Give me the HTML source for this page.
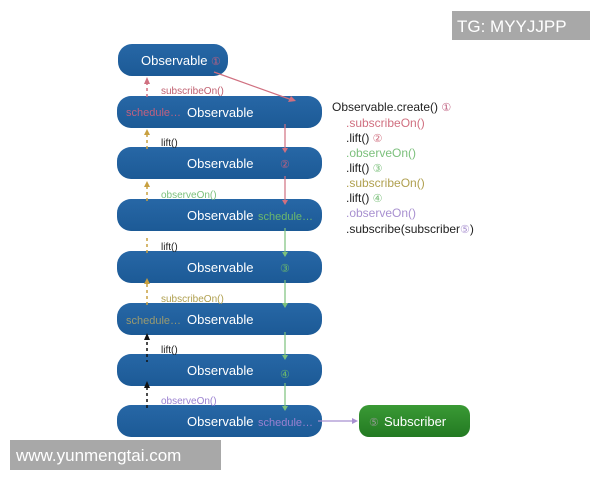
<!DOCTYPE html>
<html><head><meta charset="utf-8"><style>
html,body{margin:0;padding:0;background:#fff;}
svg{display:block;font-family:"Liberation Sans",sans-serif;}
</style></head><body>
<svg width="600" height="480" viewBox="0 0 600 480">
<defs>
<linearGradient id="b" x1="0" y1="0" x2="0" y2="1"><stop offset="0" stop-color="#2767a6"/><stop offset="1" stop-color="#1c5a96"/></linearGradient>
<linearGradient id="g" x1="0" y1="0" x2="0" y2="1"><stop offset="0" stop-color="#3a9a35"/><stop offset="1" stop-color="#237a22"/></linearGradient>
</defs>
<rect x="452" y="11" width="138" height="29" fill="#a8a8a8"/>
<text x="457" y="32" font-size="17" fill="#fff">TG: MYYJJPP</text>
<rect x="10" y="440" width="211" height="30" fill="#a8a8a8"/>
<text x="16" y="461" font-size="17" fill="#fff">www.yunmengtai.com</text>

<rect x="118" y="44" width="110" height="32" rx="14" fill="url(#b)"/>
<text x="141" y="65" font-size="13" fill="#fff">Observable</text>
<text x="211" y="65" font-size="11" fill="#c06080">①</text>

<g fill="url(#b)">
<rect x="117" y="96" width="205" height="32" rx="14"/>
<rect x="117" y="147" width="205" height="32" rx="14"/>
<rect x="117" y="199" width="205" height="32" rx="14"/>
<rect x="117" y="251" width="205" height="32" rx="14"/>
<rect x="117" y="303" width="205" height="32" rx="14"/>
<rect x="117" y="354" width="205" height="32" rx="14"/>
<rect x="117" y="405" width="205" height="32" rx="14"/>
</g>
<rect x="359" y="405" width="111" height="32" rx="10" fill="url(#g)"/>
<g font-size="13" fill="#fff">
<text x="187" y="117">Observable</text>
<text x="187" y="168">Observable</text>
<text x="187" y="220">Observable</text>
<text x="187" y="272">Observable</text>
<text x="187" y="324">Observable</text>
<text x="187" y="375">Observable</text>
<text x="187" y="426">Observable</text>
<text x="384" y="426">Subscriber</text>
</g>
<g font-size="11">
<text x="126" y="116" fill="#c06080">schedule…</text>
<text x="258" y="220" fill="#6cb86c">schedule…</text>
<text x="126" y="324" fill="#9a9a70">schedule…</text>
<text x="258" y="426" fill="#9a80d0">schedule…</text>
<text x="280" y="168" fill="#c06080">②</text>
<text x="280" y="272" fill="#6cb86c">③</text>
<text x="280" y="378" fill="#6cb86c">④</text>
<text x="369" y="426" fill="#999">⑤</text>
</g>
<g font-size="10">
<text x="161" y="94" fill="#c06070">subscribeOn()</text>
<text x="161" y="146" fill="#222">lift()</text>
<text x="161" y="198" fill="#7cc07c">observeOn()</text>
<text x="161" y="250" fill="#222">lift()</text>
<text x="161" y="302" fill="#b0a050">subscribeOn()</text>
<text x="161" y="353" fill="#222">lift()</text>
<text x="161" y="404" fill="#9a80d0">observeOn()</text>
</g>
<g stroke-width="1.2" fill="none">
<line x1="214" y1="72" x2="292" y2="100" stroke="#d07080"/>
<line x1="285" y1="124" x2="285" y2="149" stroke="#d07080"/>
<line x1="285" y1="176" x2="285" y2="202" stroke="#d07080"/>
<line x1="285" y1="228" x2="285" y2="253" stroke="#7cc07c"/>
<line x1="285" y1="280" x2="285" y2="305" stroke="#7cc07c"/>
<line x1="285" y1="332" x2="285" y2="357" stroke="#7cc07c"/>
<line x1="285" y1="383" x2="285" y2="408" stroke="#7cc07c"/>
<line x1="318" y1="421" x2="355" y2="421" stroke="#a890d0"/>
</g>
<g>
<polygon points="296,101 288,102 291,96" fill="#d07080"/>
<polygon points="282,148 288,148 285,153" fill="#d07080"/>
<polygon points="282,200 288,200 285,205" fill="#d07080"/>
<polygon points="282,252 288,252 285,257" fill="#7cc07c"/>
<polygon points="282,303 288,303 285,308" fill="#7cc07c"/>
<polygon points="282,355 288,355 285,360" fill="#7cc07c"/>
<polygon points="282,406 288,406 285,411" fill="#7cc07c"/>
<polygon points="352,418 352,424 358,421" fill="#a890d0"/>
</g>
<g stroke-width="1.5" stroke-dasharray="3,3" fill="none">
<line x1="147" y1="82" x2="147" y2="100" stroke="#d07080"/>
<line x1="147" y1="134" x2="147" y2="150" stroke="#c8a040"/>
<line x1="147" y1="186" x2="147" y2="202" stroke="#c8a040"/>
<line x1="147" y1="238" x2="147" y2="255" stroke="#c8a040"/>
<line x1="147" y1="284" x2="147" y2="306" stroke="#c8a040"/>
<line x1="147" y1="336" x2="147" y2="362" stroke="#111"/>
<line x1="147" y1="387" x2="147" y2="410" stroke="#111"/>
</g>
<g>
<polygon points="144,84 150,84 147,77" fill="#d07080"/>
<polygon points="144,135 150,135 147,129" fill="#c8a040"/>
<polygon points="144,187 150,187 147,181" fill="#c8a040"/>
<polygon points="144,284 150,284 147,278" fill="#c8a040"/>
<polygon points="144,340 150,340 147,333" fill="#111"/>
<polygon points="144,388 150,388 147,381" fill="#111"/>
</g>
<g font-size="12">
<text x="332" y="111" fill="#222">Observable.create() <tspan fill="#c06080" font-size="11">①</tspan></text>
<text x="346" y="127" fill="#d07080">.subscribeOn()</text>
<text x="346" y="142" fill="#222">.lift() <tspan fill="#d07080" font-size="11">②</tspan></text>
<text x="346" y="157" fill="#7cc07c">.observeOn()</text>
<text x="346" y="172" fill="#222">.lift() <tspan fill="#7cc07c" font-size="11">③</tspan></text>
<text x="346" y="187" fill="#b0a050">.subscribeOn()</text>
<text x="346" y="202" fill="#222">.lift() <tspan fill="#7cc07c" font-size="11">④</tspan></text>
<text x="346" y="217" fill="#a890d0">.observeOn()</text>
<text x="346" y="233" fill="#222">.subscribe(subscriber<tspan fill="#a890d0" font-size="11">⑤</tspan>)</text>
</g>
</svg>
</body></html>
